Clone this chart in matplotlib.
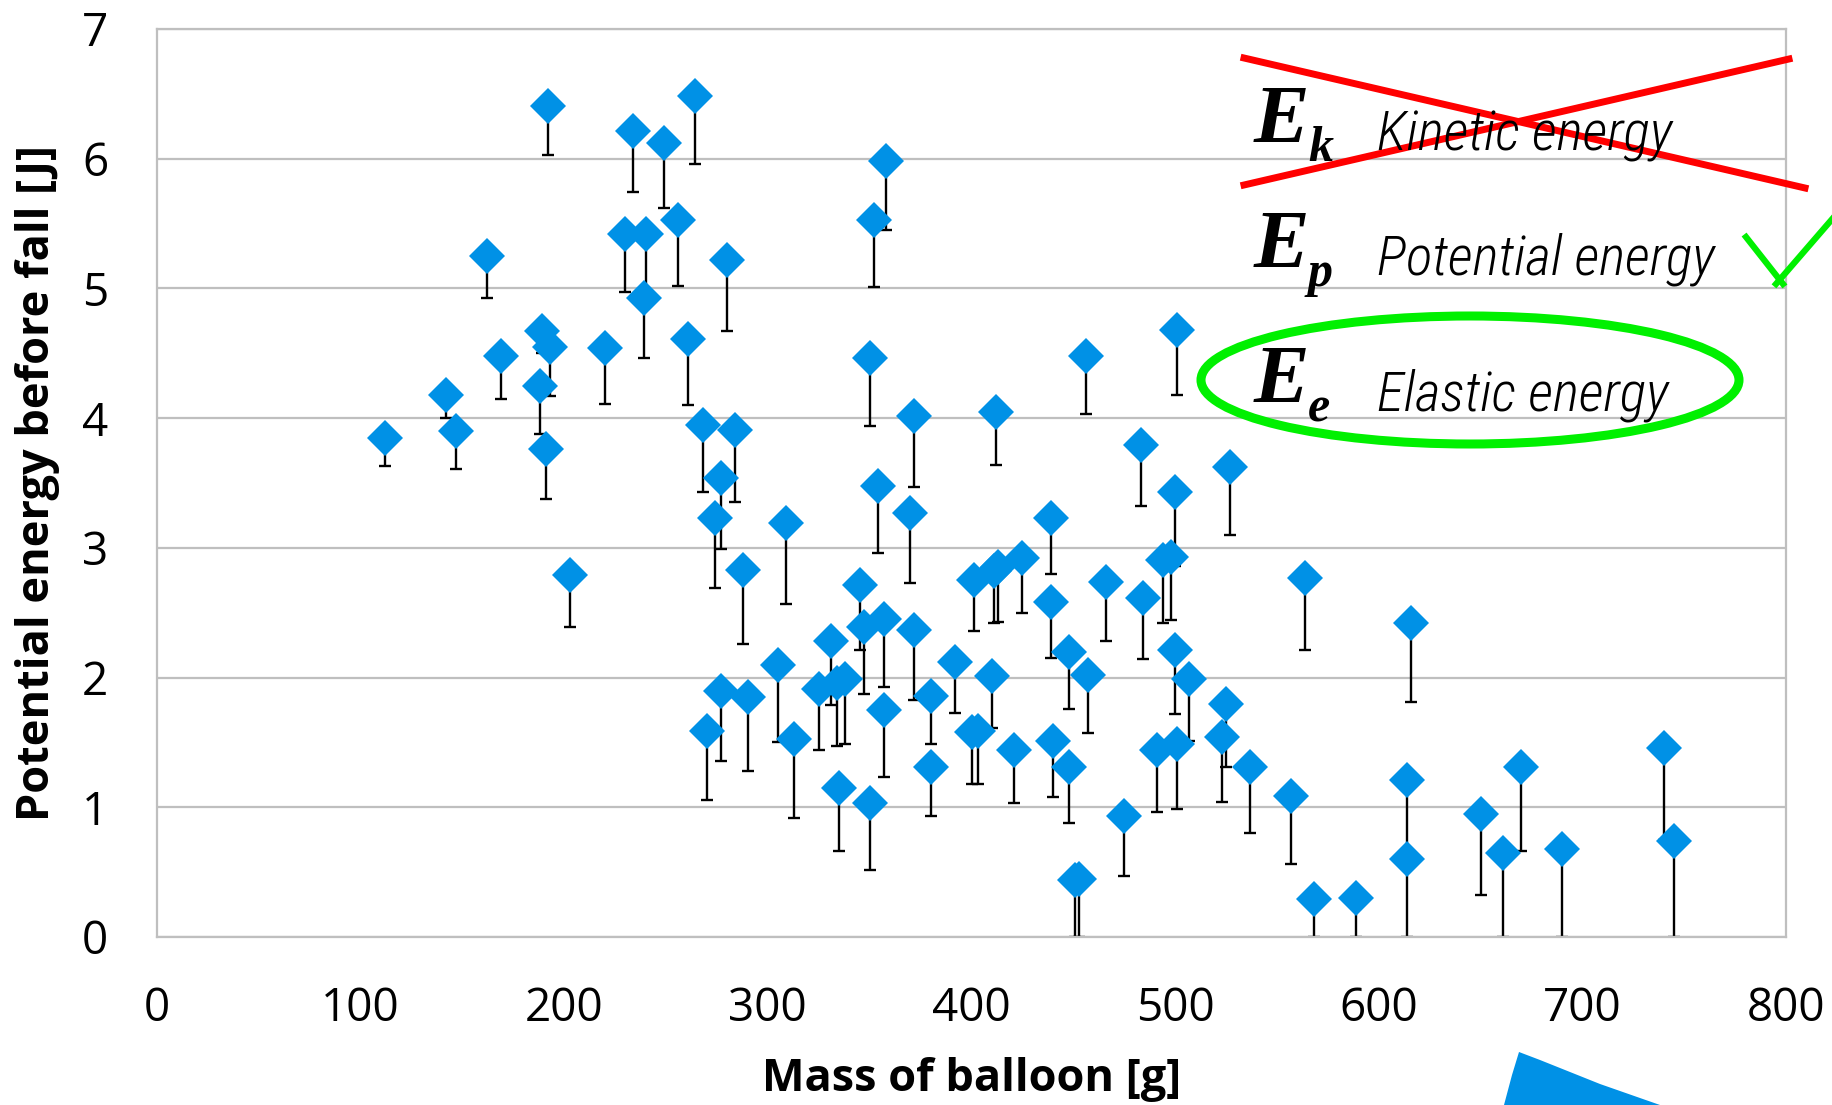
import numpy as np
import matplotlib.pyplot as plt
from matplotlib.lines import Line2D
from matplotlib.patches import Ellipse, Polygon

# balloon mass [g], potential energy [J], lower end of error bar [J]
mass = [112, 142, 147, 162, 169, 188, 189, 192, 191, 193,
        203, 220, 230, 234, 240, 239, 249, 256, 264, 261,
        268, 280, 277, 274, 284, 288, 270, 277, 290, 305,
        309, 313, 325, 331, 334, 338, 335, 345, 347, 350,
        352, 350, 357, 357, 354, 358, 372, 370, 372, 380,
        380, 392, 401, 400, 403, 411, 410, 412, 413, 421,
        425, 439, 439, 440, 448, 448, 451, 453, 456, 457,
        466, 475, 483, 484, 491, 494, 498, 500, 500, 501,
        501, 507, 525, 523, 527, 537, 557, 564, 568, 589,
        616, 614, 614, 650, 661, 670, 690, 740, 745]
energy = [3.85, 4.18, 3.90, 5.25, 4.48, 4.25, 4.67, 6.41, 3.76, 4.55,
          2.79, 4.54, 5.42, 6.21, 5.42, 4.93, 6.12, 5.53, 6.48, 4.61,
          3.95, 5.22, 3.54, 3.23, 3.91, 2.83, 1.59, 1.90, 1.85, 2.10,
          3.19, 1.53, 1.91, 2.28, 1.96, 1.99, 1.15, 2.71, 2.39, 4.46,
          5.53, 1.03, 2.45, 1.75, 3.48, 5.98, 4.02, 3.27, 2.37, 1.86,
          1.31, 2.12, 2.75, 1.58, 1.59, 2.82, 2.01, 4.05, 2.85, 1.44,
          2.92, 2.58, 3.23, 1.51, 2.20, 1.31, 0.44, 0.45, 4.48, 2.02,
          2.74, 0.93, 3.79, 2.61, 1.44, 2.91, 2.93, 3.43, 2.21, 4.68,
          1.49, 1.99, 1.80, 1.54, 3.62, 1.31, 1.09, 2.77, 0.29, 0.30,
          2.42, 1.21, 0.60, 0.95, 0.65, 1.31, 0.68, 1.46, 0.74]
energy_low = [3.63, 4.00, 3.61, 4.93, 4.15, 3.88, 4.50, 6.03, 3.38, 4.17,
              2.39, 4.11, 4.97, 5.74, 4.95, 4.46, 5.62, 5.02, 5.96, 4.10,
              3.43, 4.67, 2.99, 2.69, 3.35, 2.26, 1.06, 1.36, 1.28, 1.50,
              2.57, 0.92, 1.44, 1.79, 1.47, 1.49, 0.66, 2.21, 1.87, 3.94,
              5.01, 0.52, 1.93, 1.23, 2.96, 5.45, 3.47, 2.73, 1.83, 1.49,
              0.93, 1.73, 2.36, 1.18, 1.18, 2.42, 1.61, 3.64, 2.43, 1.03,
              2.50, 2.15, 2.80, 1.08, 1.76, 0.88, 0.0, 0.0, 4.03, 1.57,
              2.28, 0.47, 3.32, 2.14, 0.96, 2.42, 2.44, 2.86, 1.72, 4.18,
              0.99, 1.51, 1.31, 1.04, 3.10, 0.80, 0.56, 2.21, 0.0, 0.0,
              1.81, 0.62, 0.0, 0.32, 0.0, 0.66, 0.0, 0.75, 0.0]

x_ticks = [0, 100, 200, 300, 400, 500, 600, 700, 800]
y_ticks = [0, 1, 2, 3, 4, 5, 6, 7]

W, H = 1832, 1105
fig = plt.figure(figsize=(W / 100, H / 100), dpi=100)
ax = fig.add_axes([157 / W, 1 - 937 / H, (1786 - 157) / W, (937 - 29) / H])

x = np.array(mass)
y = np.array(energy)
lo = y - np.array(energy_low)
ax.errorbar(x, y, yerr=[lo, np.zeros_like(lo)], fmt='none', ecolor='black',
            elinewidth=1.7, capsize=4.5, capthick=1.7, zorder=2)
ax.plot(x, y, 'D', color='#0091E6', markersize=18, markeredgewidth=0, zorder=3)

ax.set_xlim(0, 800)
ax.set_ylim(0, 7)
ax.set_xticks(x_ticks)
ax.set_yticks(y_ticks)
ax.grid(axis='y', color='#BFBFBF', linewidth=1.6)
ax.set_axisbelow(True)
for s in ax.spines.values():
    s.set_color('#BFBFBF')
    s.set_linewidth(1.6)
ax.tick_params(length=0, labelsize=33, pad=35)
for lab in ax.get_xticklabels() + ax.get_yticklabels():
    lab.set_fontfamily('Open Sans')

ax.set_xlabel('Mass of balloon [g]', fontsize=32.5, fontweight='bold', family='Open Sans')
ax.set_ylabel('Potential energy before fall [J]', fontsize=32.5, fontweight='bold', family='Open Sans')
ax.xaxis.set_label_coords(0.5, (937 - 1080) / 908)
ax.xaxis.label.set_va('center')
ax.yaxis.set_label_coords((38 - 157) / 1629, 0.5)
ax.yaxis.label.set_va('center')


def fx(px):
    return px / W


def fy(py):
    return 1 - py / H


# energy "legend" drawn on top
serif = ['Liberation Serif', 'DejaVu Serif']
narrow = ['Roboto Condensed', 'Open Sans Condensed', 'Roboto', 'DejaVu Sans']
rows = [('E', 'k', 'Kinetic energy', 142),
        ('E', 'p', 'Potential energy', 267),
        ('E', 'e', 'Elastic energy', 402)]
for big, sub, name, base in rows:
    fig.text(fx(1254), fy(base), big, fontsize=60, fontweight='bold', style='italic',
             family=serif, va='baseline', ha='left')
    fig.text(fx(1308), fy(base + 19), sub, fontsize=36, fontweight='bold', style='italic',
             family=serif, va='baseline', ha='left')
    fig.text(fx(1377), fy(base + 8), name, fontsize=40, style='italic', fontweight='light',
             family=narrow, va='baseline', ha='left')

red = '#FF0000'
fig.add_artist(Line2D([fx(1244), fx(1805)], [fy(58), fy(188)], color=red, linewidth=5))
fig.add_artist(Line2D([fx(1244), fx(1789)], [fy(185), fy(59)], color=red, linewidth=5))

green = '#00F000'
fig.add_artist(Ellipse((fx(1470), fy(380)), 538 / W, 128 / H, fill=False,
                       edgecolor=green, linewidth=6.5, transform=fig.transFigure))
fig.add_artist(Line2D([fx(1746), fx(1783)], [fy(237), fy(284)], color=green, linewidth=4.5))
fig.add_artist(Line2D([fx(1776), fx(1840)], [fy(284), fy(210)], color=green, linewidth=4.5))

# blue shape cut by the bottom edge
blob = [(1504, 1105), (1512, 1075), (1519, 1052), (1540, 1060), (1600, 1084), (1660, 1105)]
fig.add_artist(Polygon([(fx(a), fy(b)) for a, b in blob], closed=True,
                       facecolor='#0091E6', edgecolor='none', transform=fig.transFigure))

fig.savefig('out.png', dpi=100)
